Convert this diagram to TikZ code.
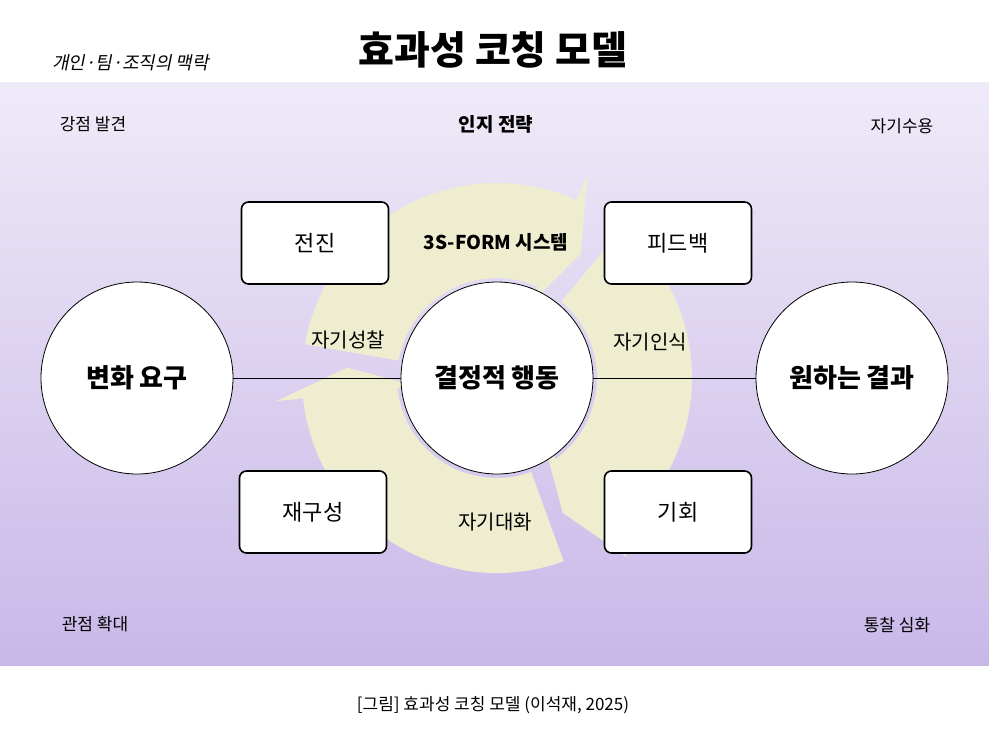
\documentclass[tikz,border=0pt]{standalone}
\usepackage{fontspec}
\setmainfont{Noto Sans CJK KR}
\usetikzlibrary{shadings}
\definecolor{bgtop}{HTML}{EFEAF8}
\definecolor{bgbot}{HTML}{C8B8E8}
\definecolor{cyc}{HTML}{EEEDD0}
\begin{document}
\begin{tikzpicture}[x=1pt,y=-1pt,
 box/.style={draw,line width=1.6pt,rounded corners=7pt,fill=white,minimum width=147pt,minimum height=82pt,font=\fontsize{22}{26}\selectfont},
 circ/.style={draw,line width=0.8pt,circle,fill=white,minimum size=192pt,font=\bfseries\fontsize{26}{30}\selectfont},
 lab/.style={font=\fontsize{20}{24}\selectfont},
 corner/.style={font=\fontsize{17}{20}\selectfont}]
\useasboundingbox (0,0) rectangle (989,740);
\fill[white] (0,0) rectangle (989,740);
\shade[top color=bgtop,bottom color=bgbot] (0,82) rectangle (989,665);
% cycle arrows
\foreach \s/\e in {170/58, 50/-62, -70/-182}{
 \fill[cyc] ({497+100*cos(\s)},{378-100*sin(\s)}) arc[start angle=-\s,end angle=-\e-8,radius=100]
   -- ({497+80*cos(\e+8)},{378-80*sin(\e+8)}) -- ({497+150*cos(\e-2)},{378-150*sin(\e-2)})
   -- ({497+222*cos(\e+8)},{378-222*sin(\e+8)}) -- ({497+195*cos(\e+8)},{378-195*sin(\e+8)})
   arc[start angle=-\e-8,end angle=-\s,radius=195] -- cycle;
}
\node[font=\bfseries\fontsize{39}{46}\selectfont] (title) at (493,50) {효과성 코칭 모델};
\node[font=\fontsize{18}{21}\selectfont,xslant=0.2] (sub) at (132,63) {개인·팀·조직의 맥락};
\node[corner] (c1) at (93,124) {강점 발견};
\node[corner] (c2) at (902,126) {자기수용};
\node[corner] (c3) at (95,624) {관점 확대};
\node[corner] (c4) at (897,625) {통찰 심화};
\node[font=\bfseries\fontsize{19}{22}\selectfont] (cog) at (496,124) {인지 전략};
\node[font=\bfseries\fontsize{19}{22}\selectfont] (sys) at (496,242) {3S-FORM 시스템};
\node[circ] (L) at (137,378) {변화 요구};
\node[circ] (C) at (497,378) {결정적 행동};
\node[circ] (R) at (852,378) {원하는 결과};
\draw[line width=1pt] (L) -- (C);
\draw[line width=1pt] (C) -- (R);
\node[box] (b1) at (315,243) {전진};
\node[box] (b2) at (678,243) {피드백};
\node[box] (b3) at (313,512) {재구성};
\node[box] (b4) at (678,512) {기회};
\node[lab] (l1) at (348,340) {자기성찰};
\node[lab] (l2) at (650,342) {자기인식};
\node[lab] (l3) at (495,522) {자기대화};
\node[font=\fontsize{17}{20}\selectfont] (cap) at (493,705) {[그림] 효과성 코칭 모델 (이석재, 2025)};
\end{tikzpicture}
\end{document}
